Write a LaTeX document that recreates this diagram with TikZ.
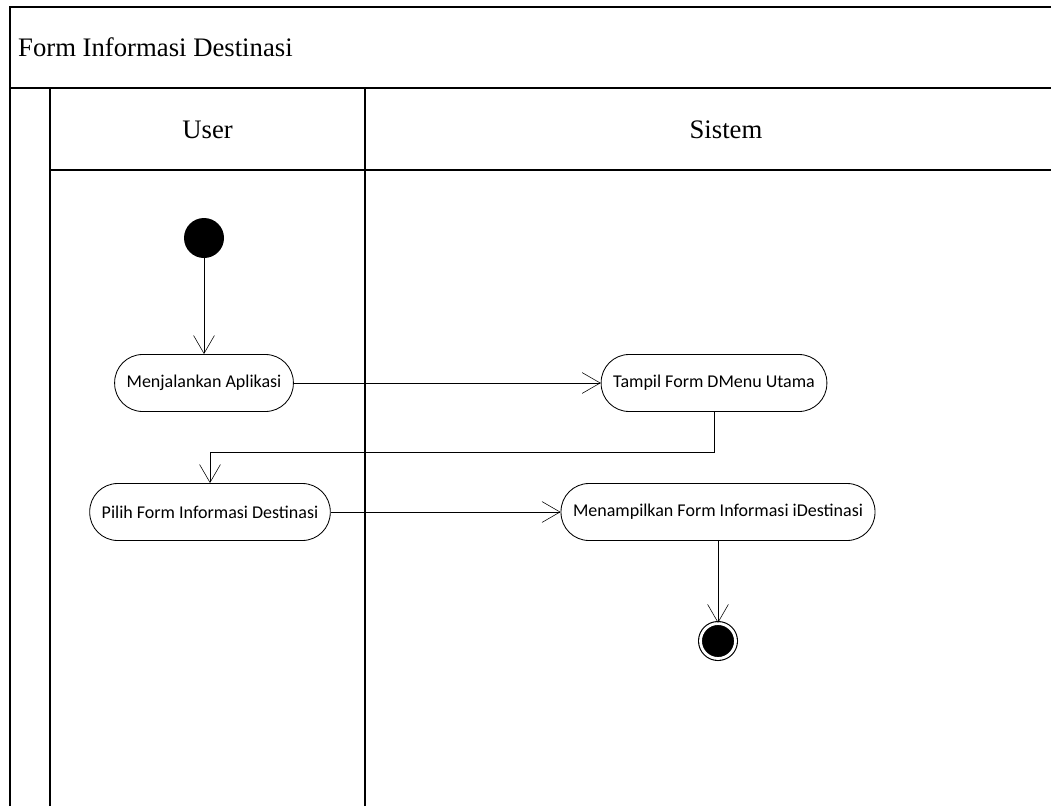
\documentclass[tikz,border=0pt]{standalone}
\usepackage{fontspec}
\setmainfont{Liberation Serif}
\newfontfamily\actfont{Carlito}
\usetikzlibrary{arrows.meta,calc}
\tikzset{%
  >={Straight Barb[length=4.5mm,width=5.2mm]},
  % Specifications for style of nodes:
         action/.style = {rectangle, rounded corners=0.7cm, draw=black, line width=0.6pt,
                          minimum height=1.425cm, inner xsep=0.3cm,
                          text centered, font=\actfont\fontsize{12.8}{15}\selectfont},
   initial/.style = {circle, fill=black, minimum size=1cm, inner sep=0pt},
       final/.style = {circle, fill=black, draw=black, line width=0.8pt,
                       double=white, double distance=2pt, minimum size=0.874cm, inner sep=0pt},
        lane/.style = {line width=0.8pt},
       lanetext/.style = {font=\fontsize{19}{22}\selectfont},
}

\begin{document}
\begin{tikzpicture}[node distance=3.225cm]
  \useasboundingbox (0,0) rectangle (26.275,-20.15);
  % Swimlane frame
  \draw[lane] (0.25,-20.15) -- (0.25,-0.175) -- (26.275,-0.175);
  \draw[lane] (0.25,-2.2) -- (26.275,-2.2);
  \draw[lane] (1.25,-20.15) -- (1.25,-2.2);
  \draw[lane] (1.25,-4.25) -- (26.275,-4.25);
  \draw[lane] (9.125,-20.15) -- (9.125,-2.2);
  \node (title)  [lanetext, anchor=west] at (0.33,-1.175) {Form Informasi Destinasi};
  \node (user)   [lanetext] at (5.19,-3.25) {User};
  \node (sistem) [lanetext] at (18.15,-3.25) {Sistem};
  % Specification of nodes (position, etc.)
  \node (start)  [initial] at (5.1,-5.95) {};
  \node (jalan)  [action, below of=start, yshift=-0.4cm] {Menjalankan Aplikasi};
  \node (menu)   [action, right of=jalan, xshift=9.525cm] {Tampil Form DMenu Utama};
  \node (pilih)  [action, below of=jalan, xshift=0.15cm] {Pilih Form Informasi Destinasi};
  \node (tampil) [action, right of=pilih, xshift=9.475cm] {Menampilkan Form Informasi iDestinasi};
  \node (finish) [final, below of=tampil] {};
  % Specification of lines between nodes specified above
\draw[->]   (start) -- (jalan);
\draw[->]   (jalan) -- (menu);
\draw[->]   (menu.south) -- ++(0,-1.0) -| (pilih.north);
\draw[->]   (pilih) -- (tampil);
\draw[->]   (tampil) -- (finish);
\end{tikzpicture}
\end{document}
